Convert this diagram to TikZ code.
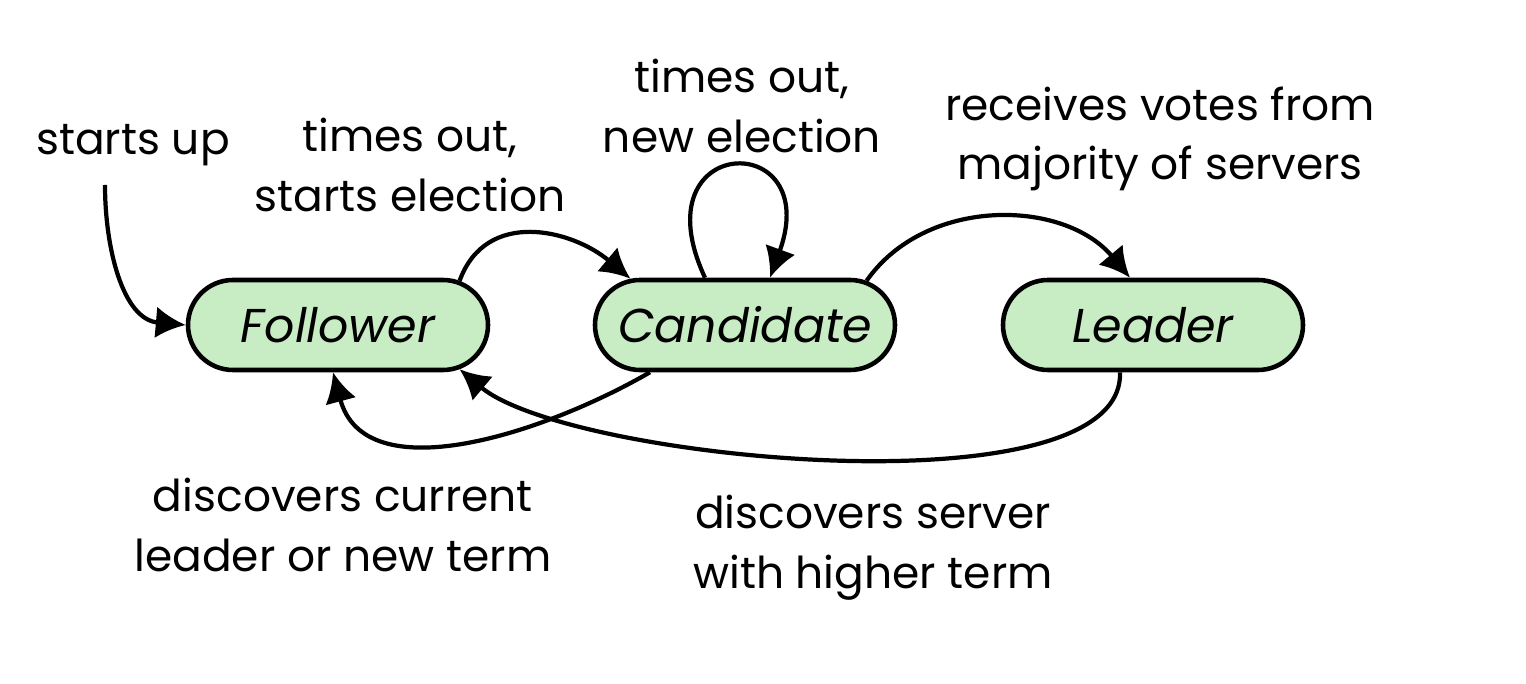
\documentclass[tikz,border=0pt]{standalone}
\usepackage{fontspec}
\setmainfont{Poppins}
\usepackage{xcolor}
\usetikzlibrary{shapes,arrows.meta}
\definecolor{stategreen}{RGB}{200,236,196}
\tikzset{state/.style={rounded rectangle,draw,line width=1.3pt,fill=stategreen,minimum width=3cm,minimum height=0.9cm,inner sep=0pt,font=\fontsize{13.5}{17}\selectfont\itshape}}
\tikzset{lbl/.style={align=center,font=\fontsize{12.5}{17}\selectfont}}

\begin{document}
\begin{tikzpicture}[>={Latex[length=8.5pt,width=9pt]},line width=1.2pt]
    \useasboundingbox (0,0) rectangle (15.26,6.84);

    \node[state] (fol) at (3.38,3.59) {Follower};
    \node[state] (can) at (7.45,3.59) {Candidate};
    \node[state] (lea) at (11.53,3.59) {Leader};

    \node[lbl] (su) at (1.33,5.39) {starts up};
    \node[lbl] (te) at (4.10,5.19) {times out,\\starts election};
    \node[lbl] (ne) at (7.42,5.78) {times out,\\new election};
    \node[lbl] (rv) at (11.60,5.45) {receives votes from\\majority of servers};
    \node[lbl] (dc) at (3.43,1.59) {discovers current\\leader or new term};
    \node[lbl] (ds) at (8.73,1.36) {discovers server\\with higher term};

    \coordinate (s) at (1.05,4.99);

    \draw [->] (s) to [out=-90,in=175] (fol.west);
    \draw [->] (fol.20) to [out=70,in=140,looseness=1.15] (can.158);
    \draw [->] ([xshift=-0.4cm]can.north) to [out=115,in=70,distance=1.6cm] ([xshift=0.25cm]can.north);
    \draw [->] (can.20) to [out=55,in=130] ([xshift=-0.23cm]lea.north);
    \draw [->] ([xshift=-0.95cm]can.south) to [out=-150,in=-75] ([xshift=-0.05cm]fol.south);
    \draw [->] ([xshift=-0.33cm]lea.south) to [out=-88,in=-40,looseness=0.55] (fol.-20);
\end{tikzpicture}
\end{document}
